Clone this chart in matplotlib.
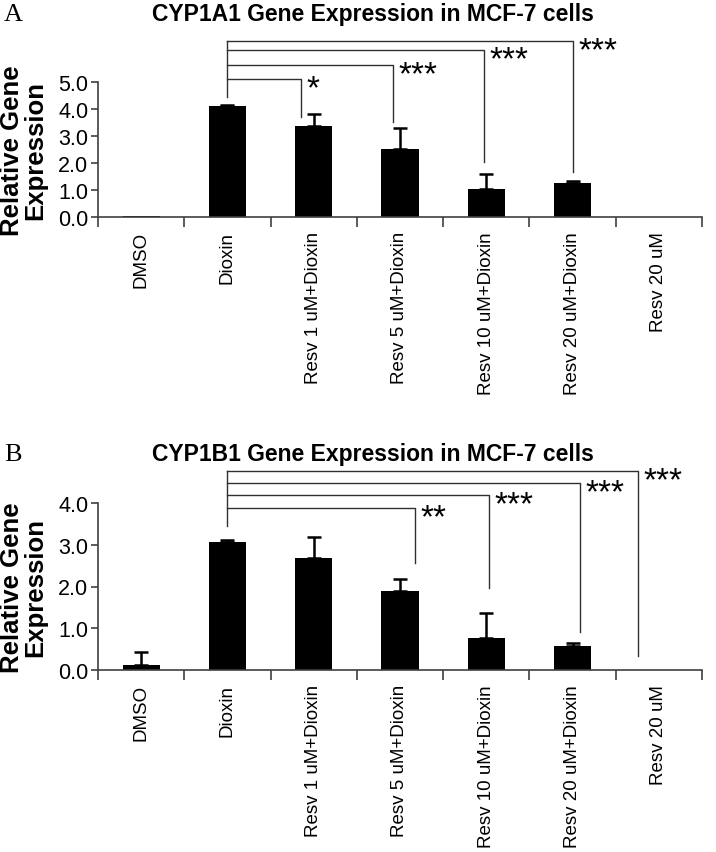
import numpy as np
import matplotlib
matplotlib.use('Agg')
import matplotlib.pyplot as plt

plt.rcParams['font.family'] = ['Liberation Sans', 'DejaVu Sans']

# data
categories = ['DMSO', 'Dioxin', 'Resv 1 uM+Dioxin', 'Resv 5 uM+Dioxin',
              'Resv 10 uM+Dioxin', 'Resv 20 uM+Dioxin', 'Resv 20 uM']
cyp1a1_mean = [0.04, 4.11, 3.37, 2.52, 1.04, 1.27, 0.0]
cyp1a1_err = [0.0, 0.05, 0.44, 0.78, 0.55, 0.06, 0.0]
cyp1b1_mean = [0.12, 3.07, 2.68, 1.89, 0.77, 0.57, 0.0]
cyp1b1_err = [0.31, 0.05, 0.51, 0.29, 0.60, 0.08, 0.0]

# significance brackets vs Dioxin: (target, level, drop end, label, x shift)
cyp1a1_sig = [(2, 5.11, 3.70, '*', -0.15),
              (3, 5.63, 3.52, '***', -0.08),
              (4, 6.19, 2.04, '***', -0.03),
              (5, 6.52, 1.67, '***', 0.0)]
cyp1b1_sig = [(3, 3.88, 2.56, '**', 0.17),
              (4, 4.19, 1.96, '***', 0.03),
              (5, 4.48, 0.91, '***', 0.09),
              (6, 4.77, 0.34, '***', -0.24)]

W, H = 716, 853
fig = plt.figure(figsize=(W / 100, H / 100), dpi=100)

axis_col = '#404040'


def panel(rect, mean, err, ymax, sig, dioxin_bottom, title, letter, title_y):
    ax = fig.add_axes(rect)
    x = np.arange(len(categories))
    ax.bar(x, mean, width=0.43, color='black', zorder=2)
    err = np.array(err)
    m = err > 0
    ax.errorbar(x[m], np.array(mean)[m], yerr=[np.zeros(m.sum()), err[m]],
                fmt='none', ecolor='black', elinewidth=1.8, capsize=5,
                capthick=1.8, zorder=3)
    ax.set_xlim(-0.5, len(categories) - 0.5)
    ax.set_ylim(0, ymax)
    ax.set_yticks(np.arange(0, ymax + 0.01, 1.0))
    ax.set_yticklabels(['%.1f' % v for v in np.arange(0, ymax + 0.01, 1.0)])
    ax.set_xticks(np.arange(-0.5, len(categories), 1.0))
    ax.set_xticklabels([])
    ax.set_xticks(x, minor=True)
    ax.set_xticklabels(categories, minor=True, rotation=90, va='top',
                       ha='center', fontsize=13.5)
    ax.tick_params(axis='x', which='minor', length=0, pad=10)
    ax.tick_params(axis='x', which='major', direction='out', length=7,
                   width=1.2, color=axis_col)
    ax.tick_params(axis='y', direction='out', length=5, width=1.2,
                   color=axis_col, labelsize=15.5, pad=2)
    for s in ['top', 'right']:
        ax.spines[s].set_visible(False)
    for s in ['left', 'bottom']:
        ax.spines[s].set_color(axis_col)
        ax.spines[s].set_linewidth(1.2)

    # brackets
    top = max(s[1] for s in sig)
    ax.plot([1, 1], [dioxin_bottom, top], color='#303030', lw=1.0,
            clip_on=False)
    for tgt, lvl, bot, lab, dx in sig:
        xr = tgt + dx
        ax.plot([1, xr, xr], [lvl, lvl, bot], color='#303030', lw=1.0,
                clip_on=False)
        ax.annotate(lab, (xr, lvl), xytext=(4, 4), textcoords='offset points',
                    ha='left', va='top', fontsize=24, annotation_clip=False)

    fig.text(373 / W, 1 - title_y / H, title, ha='center', va='center',
             fontsize=16.5, fontweight='bold')
    fig.text(4 / W, 1 - title_y / H, letter, ha='left', va='center',
             fontsize=19, family='Liberation Serif')
    fig.text(24 / W, rect[1] + rect[3] / 2, 'Relative Gene\nExpression',
             rotation=90, ha='center', va='center', multialignment='center',
             fontsize=18.5, fontweight='bold', linespacing=0.95)
    return ax


left = 98 / W
width = 604 / W
panel([left, 1 - 218 / H, width, 135 / H], cyp1a1_mean, cyp1a1_err, 5.0,
      cyp1a1_sig, 4.44, 'CYP1A1 Gene Expression in MCF-7 cells', 'A', 15)
panel([left, 1 - 671 / H, width, 167 / H], cyp1b1_mean, cyp1b1_err, 4.0,
      cyp1b1_sig, 3.45, 'CYP1B1 Gene Expression in MCF-7 cells', 'B', 455)

fig.savefig('out.png', dpi=100)
